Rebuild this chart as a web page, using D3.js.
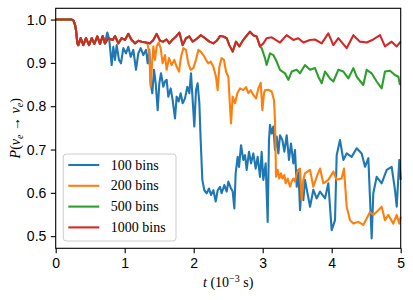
<!DOCTYPE html>
<html lang="en">
<head>
    <meta charset="UTF-8">
    <title>Survival probability vs time</title>
    <style>
        body {
            margin: 0;
            padding: 0;
            background-color: #fff;
        }
        svg {
            display: block;
            font-family: "Liberation Serif", "DejaVu Serif", serif;
        }
        .axis text {
            font-size: 14px;
            fill: #000;
        }
        .axis line {
            stroke: #000;
            stroke-width: 1.1;
        }
        .axis path {
            display: none;
        }
        .frame {
            fill: none;
            stroke: #000;
            stroke-width: 1.1;
        }
        .series {
            fill: none;
            stroke-width: 2.1;
            stroke-linejoin: round;
        }
        .legend-text {
            font-size: 14px;
        }
    </style>
</head>
<body>
    <svg width="413" height="300"></svg>

    <script src="https://d3js.org/d3.v7.min.js"></script>
    <script>
        // series names and colours
        const seriesNames = ["100 bins", "200 bins", "500 bins", "1000 bins"];
        const seriesColors = ["#1f77b4", "#ff7f0e", "#2ca02c", "#d62728"];

        const xTicks = [0, 1, 2, 3, 4, 5];
        const yTicks = [0.5, 0.6, 0.7, 0.8, 0.9, 1.0];

        // 1000 bins (the others sit under it until they split off)
        const redT = [0, 0.232, 0.256, 0.280, 0.294, 0.314,
            0.328, 0.362, 0.400, 0.439, 0.483, 0.522, 0.560, 0.603, 0.642, 0.681, 0.714,
            0.763, 0.826, 0.859, 0.907, 0.956, 1.004, 1.053, 1.101, 1.149, 1.198, 1.246, 1.309, 1.367, 1.415, 1.463, 1.512,
            1.560, 1.608, 1.647, 1.695, 1.744, 1.792, 1.840, 1.888, 1.937, 1.985, 2.033, 2.101, 2.164, 2.227, 2.285,
            2.333, 2.381, 2.429, 2.478, 2.516, 2.565, 2.613, 2.661, 2.710, 2.758, 2.816, 2.864, 2.913, 2.961, 3.009,
            3.057, 3.130, 3.251, 3.347, 3.444, 3.516, 3.589, 3.686, 3.758, 3.855, 3.951, 4.024,
            4.096, 4.217, 4.314, 4.410, 4.507, 4.603, 4.700, 4.772, 4.869, 4.942, 5.000];
        const redP = [1.000, 1.000, 0.998, 0.988, 0.976, 0.945,
            0.941, 0.957, 0.941, 0.957, 0.941, 0.957, 0.944, 0.961, 0.944, 0.962, 0.945,
            0.957, 0.953, 0.962, 0.945, 0.957, 0.953, 0.967, 0.953, 0.945, 0.951, 0.949, 0.947, 0.945, 0.953, 0.967, 0.951,
            0.949, 0.954, 0.945, 0.954, 0.961, 0.970, 0.941, 0.957, 0.961, 0.949, 0.954, 0.964, 0.957, 0.949, 0.945,
            0.951, 0.962, 0.961, 0.957, 0.941, 0.926, 0.949, 0.938, 0.951, 0.961, 0.972, 0.964, 0.961, 0.938, 0.945,
            0.957, 0.959, 0.947, 0.964, 0.953, 0.957, 0.947, 0.953, 0.954, 0.945, 0.968, 0.941,
            0.957, 0.934, 0.964, 0.949, 0.947, 0.954, 0.964, 0.938, 0.949, 0.938, 0.949];

        // 100 bins, after it leaves the common curve
        const blueSplit = 0.714;
        const blueT = [0.748, 0.777, 0.811, 0.835, 0.859, 0.884, 0.917, 0.946, 0.980, 1.019,
            1.052, 1.087, 1.125, 1.164, 1.197, 1.232, 1.270, 1.309, 1.333, 1.357,
            1.377, 1.400, 1.425, 1.449, 1.478, 1.502, 1.526, 1.560, 1.584, 1.608,
            1.632, 1.666, 1.695, 1.729, 1.753, 1.782, 1.811, 1.840, 1.874, 1.908,
            1.937, 1.961, 1.985, 2.009, 2.033, 2.057, 2.082, 2.101, 2.125, 2.154,
            2.188, 2.222, 2.251, 2.285, 2.319, 2.348, 2.381, 2.405, 2.444, 2.478,
            2.502, 2.541, 2.565, 2.589, 2.608, 2.637, 2.657, 2.686, 2.719, 2.744,
            2.768, 2.802, 2.831, 2.864, 2.898, 2.927, 2.961, 2.985, 3.009, 3.043,
            3.072, 3.091, 3.106, 3.130, 3.154, 3.178, 3.203, 3.227, 3.251, 3.285,
            3.314, 3.348, 3.381, 3.410, 3.444, 3.468, 3.493, 3.517, 3.541, 3.565,
            3.589, 3.613, 3.686, 3.734, 3.782, 3.831, 3.903, 3.951, 4.000, 4.048,
            4.072, 4.120, 4.169, 4.217, 4.289, 4.362, 4.434, 4.483, 4.531, 4.579,
            4.603, 4.652, 4.724, 4.797, 4.869, 4.917, 4.942, 4.980, 5.000];
        const blueP = [0.970, 0.953, 0.895, 0.937, 0.907, 0.941, 0.907, 0.899, 0.934, 0.922,
            0.937, 0.914, 0.930, 0.884, 0.922, 0.934, 0.918, 0.930, 0.899, 0.930,
            0.853, 0.830, 0.884, 0.853, 0.791, 0.853, 0.876, 0.845, 0.857, 0.861,
            0.822, 0.841, 0.814, 0.772, 0.822, 0.811, 0.830, 0.807, 0.818, 0.845,
            0.830, 0.876, 0.814, 0.753, 0.837, 0.853, 0.807, 0.722, 0.630, 0.606,
            0.599, 0.610, 0.595, 0.606, 0.580, 0.606, 0.614, 0.599, 0.618, 0.603,
            0.626, 0.610, 0.603, 0.564, 0.645, 0.683, 0.660, 0.710, 0.676, 0.687,
            0.653, 0.695, 0.668, 0.691, 0.656, 0.683, 0.637, 0.695, 0.630, 0.668,
            0.533, 0.722, 0.757, 0.737, 0.753, 0.699, 0.730, 0.691, 0.733, 0.722,
            0.695, 0.733, 0.676, 0.714, 0.668, 0.699, 0.614, 0.653, 0.560, 0.614,
            0.583, 0.630, 0.568, 0.607, 0.587, 0.603, 0.587, 0.622, 0.514, 0.537,
            0.687, 0.722, 0.676, 0.691, 0.683, 0.703, 0.691, 0.660, 0.680, 0.495,
            0.599, 0.637, 0.622, 0.653, 0.660, 0.607, 0.568, 0.676, 0.630];

        // 200 bins
        const orangeSplit = 1.309;
        const orangeT = [1.328, 1.357, 1.376, 1.396, 1.415, 1.439, 1.463, 1.492, 1.521, 1.550,
            1.584, 1.608, 1.642, 1.681, 1.719, 1.753, 1.787, 1.816, 1.850, 1.888,
            1.922, 1.956, 1.995, 2.033, 2.067, 2.101, 2.140, 2.178, 2.212, 2.246,
            2.285, 2.323, 2.347, 2.372, 2.405, 2.439, 2.468, 2.502, 2.526, 2.541,
            2.565, 2.599, 2.632, 2.671, 2.719, 2.758, 2.792, 2.826, 2.864, 2.903,
            2.937, 2.971, 2.995, 3.019, 3.033, 3.082, 3.130, 3.164, 3.178, 3.193,
            3.217, 3.241, 3.265, 3.285, 3.314, 3.333, 3.362, 3.396, 3.420, 3.444,
            3.468, 3.493, 3.517, 3.541, 3.565, 3.589, 3.613, 3.686, 3.734, 3.782,
            3.831, 3.879, 3.951, 4.024, 4.072, 4.144, 4.178, 4.217, 4.265, 4.314,
            4.386, 4.458, 4.507, 4.555, 4.603, 4.676, 4.724, 4.772, 4.821, 4.893,
            4.942, 4.980, 5.000];
        const orangeP = [0.945, 0.922, 0.845, 0.899, 0.938, 0.907, 0.938, 0.947, 0.934, 0.899,
            0.918, 0.884, 0.911, 0.895, 0.907, 0.891, 0.880, 0.914, 0.934, 0.930,
            0.899, 0.884, 0.888, 0.907, 0.930, 0.926, 0.918, 0.907, 0.899, 0.903,
            0.891, 0.868, 0.837, 0.891, 0.911, 0.907, 0.880, 0.868, 0.799, 0.760,
            0.822, 0.807, 0.830, 0.841, 0.837, 0.844, 0.830, 0.837, 0.826, 0.818,
            0.841, 0.854, 0.791, 0.830, 0.837, 0.838, 0.834, 0.814, 0.768, 0.637,
            0.653, 0.633, 0.645, 0.633, 0.641, 0.622, 0.633, 0.614, 0.626, 0.633,
            0.626, 0.645, 0.653, 0.656, 0.583, 0.630, 0.645, 0.653, 0.614, 0.637,
            0.656, 0.622, 0.630, 0.649, 0.630, 0.633, 0.656, 0.568, 0.537, 0.529,
            0.533, 0.526, 0.541, 0.556, 0.549, 0.560, 0.568, 0.537, 0.549, 0.529,
            0.549, 0.529, 0.545];

        // 500 bins
        const greenSplit = 2.961;
        const greenT = [2.985, 3.033, 3.057, 3.106, 3.154, 3.202, 3.251, 3.323, 3.372, 3.420,
            3.492, 3.541, 3.613, 3.686, 3.758, 3.806, 3.855, 3.903, 3.975, 4.024,
            4.096, 4.169, 4.241, 4.314, 4.362, 4.458, 4.507, 4.579, 4.652, 4.724,
            4.772, 4.845, 4.917, 4.966, 4.990];
        const greenP = [0.934, 0.911, 0.895, 0.922, 0.918, 0.903, 0.884, 0.876, 0.861, 0.880,
            0.884, 0.876, 0.895, 0.884, 0.888, 0.868, 0.853, 0.880, 0.864, 0.857,
            0.884, 0.880, 0.864, 0.888, 0.868, 0.849, 0.884, 0.876, 0.857, 0.841,
            0.880, 0.882, 0.872, 0.868, 0.849];

        function toPoints(ts, ps) {
            return ts.map((t, i) => ({t: t, p: ps[i]}));
        }
        // common part of the 1000-bin run up to the split, then the run's own values
        function withCommon(split, ts, ps) {
            const head = toPoints(redT, redP).filter(d => d.t <= split);
            return head.concat(toPoints(ts, ps));
        }

        const seriesData = [
            withCommon(blueSplit, blueT, blueP),
            withCommon(orangeSplit, orangeT, orangeP),
            withCommon(greenSplit, greenT, greenP),
            toPoints(redT, redP)
        ];

        const svg = d3.select("svg");
        const margin = {top: 8.3, right: 12.3, bottom: 51.7, left: 55.7};
        const width = +svg.attr("width") - margin.left - margin.right;
        const height = +svg.attr("height") - margin.top - margin.bottom;

        const g = svg.append("g")
            .attr("transform", `translate(${margin.left},${margin.top})`);

        const x = d3.scaleLinear().domain([0, 5]).range([0, width]);
        const y = d3.scaleLinear().domain([0.472, 1.026]).range([height, 0]);

        g.append("g")
            .attr("class", "axis")
            .attr("transform", `translate(0,${height})`)
            .call(d3.axisBottom(x).tickValues(xTicks).tickFormat(d3.format("d"))
                .tickSize(4.9).tickSizeOuter(0).tickPadding(4.5));

        g.append("g")
            .attr("class", "axis")
            .call(d3.axisLeft(y).tickValues(yTicks).tickFormat(d3.format(".1f"))
                .tickSize(4.9).tickSizeOuter(0).tickPadding(4.5));

        const line = d3.line()
            .x(d => x(d.t))
            .y(d => y(d.p));

        g.append("g")
            .selectAll("path")
            .data(seriesData)
            .join("path")
            .attr("class", "series")
            .attr("stroke", (d, i) => seriesColors[i])
            .attr("d", line);

        g.append("rect")
            .attr("class", "frame")
            .attr("width", width)
            .attr("height", height);

        // legend
        const legend = g.append("g")
            .attr("transform", `translate(${63.3 - margin.left},${154 - margin.top})`);

        legend.append("rect")
            .attr("width", 112.7)
            .attr("height", 87)
            .attr("rx", 3)
            .attr("fill", "#fff")
            .attr("fill-opacity", 0.8)
            .attr("stroke", "#cccccc")
            .attr("stroke-width", 1);

        const rows = legend.selectAll("g.row")
            .data(seriesNames)
            .join("g")
            .attr("class", "row")
            .attr("transform", (d, i) => `translate(0,${11 + i * 20.8})`);

        rows.append("line")
            .attr("x1", 5)
            .attr("x2", 36)
            .attr("stroke", (d, i) => seriesColors[i])
            .attr("stroke-width", 2.1);

        rows.append("text")
            .attr("class", "legend-text")
            .attr("x", 47.5)
            .attr("dy", "0.33em")
            .text(d => d);

        // axis labels
        const xLabel = svg.append("text")
            .attr("x", margin.left + width / 2)
            .attr("y", 287)
            .attr("text-anchor", "middle")
            .style("font-size", "14px");
        xLabel.append("tspan").attr("font-style", "italic").text("t");
        xLabel.append("tspan").text(" (10");
        xLabel.append("tspan").attr("dy", -5.5).style("font-size", "10px").text("\u22123");
        xLabel.append("tspan").attr("dy", 5.5).text(" s)");

        const yLabel = svg.append("text")
            .attr("transform", `translate(19.5,${margin.top + height / 2}) rotate(-90)`)
            .attr("text-anchor", "middle")
            .style("font-size", "14px");
        yLabel.append("tspan").attr("font-style", "italic").text("P");
        yLabel.append("tspan").text("(");
        yLabel.append("tspan").attr("font-style", "italic").text("\u03bd");
        yLabel.append("tspan").attr("font-style", "italic").attr("dy", 3).style("font-size", "10px").text("e");
        yLabel.append("tspan").attr("dy", -3).text(" \u2192 ");
        yLabel.append("tspan").attr("font-style", "italic").text("\u03bd");
        yLabel.append("tspan").attr("font-style", "italic").attr("dy", 3).style("font-size", "10px").text("e");
        yLabel.append("tspan").attr("dy", -3).text(")");
    </script>
</body>
</html>
